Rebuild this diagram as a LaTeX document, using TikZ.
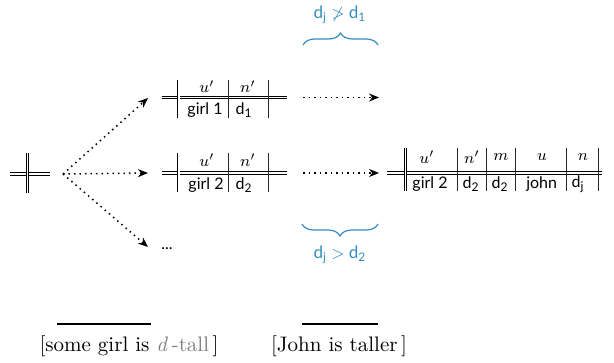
\documentclass[tikz,border=0pt]{standalone}
\usepackage{fontspec}
\newfontfamily\lato{Lato}
\usetikzlibrary{arrows.meta,decorations.pathreplacing}
\definecolor{bl}{RGB}{52,140,196}
\begin{document}
\begin{tikzpicture}[x=0.5pt,y=-0.5pt,
  dbl/.style={double, line width=0.45pt, double distance=0.7pt},
  sep/.style={line width=0.5pt, black!85},
  arr/.style={dotted, line width=0.75pt, -{Stealth[length=5pt,width=4pt]}},
  cell/.style={font=\lato\fontsize{8}{9}\selectfont, inner sep=0pt},
  hd/.style={font=\fontsize{8.5}{10}\selectfont, inner sep=0pt},
  lbl/.style={font=\lato\fontsize{8.5}{10}\selectfont, text=bl, inner sep=0pt},
  br/.style={decorate, decoration={brace, amplitude=6pt}, draw=bl, line width=0.6pt},
  captext/.style={font=\fontsize{10.5}{12}\selectfont, inner sep=0pt},
  rule/.style={line width=0.6pt}]
\useasboundingbox (0,0) rectangle (614,363);

% empty table at left
\coordinate (e1) at (10,174); \coordinate (e2) at (50,174);
\coordinate (e3) at (27.5,153); \coordinate (e4) at (27.5,193);
\draw[dbl] (e1) -- (e2);
\draw[dbl] (e3) -- (e4);

% origin of arrows
\coordinate (o) at (63,174);
\coordinate (a1) at (148,98);
\coordinate (a2) at (148,173);
\coordinate (a3) at (148,247);
\draw[arr] (o) -- (a1);
\draw[arr] (o) -- (a2);
\draw[arr] (o) -- (a3);
\node[cell] (dots) at (167,249) {...};

% top table
\coordinate (p1) at (162,97.5); \coordinate (p2) at (287,97.5);
\draw[dbl] (p1) -- (p2);
\coordinate (p3) at (178.8,80); \coordinate (p4) at (178.8,118);
\draw[dbl] (p3) -- (p4);
\coordinate (p5) at (228,80); \coordinate (p6) at (228,118);
\coordinate (p7) at (268,80); \coordinate (p8) at (268,118);
\draw[sep] (p5) -- (p6);
\draw[sep] (p7) -- (p8);
\node[hd] (pu) at (207,86.5) {$u'$};
\node[hd] (pn) at (248,86.5) {$n'$};
\node[cell] (pg) at (205,110) {girl 1};
\node[cell] (pd) at (244,110) {d\textsubscript{1}};

% middle table
\coordinate (q1) at (162,173); \coordinate (q2) at (287,173);
\draw[dbl] (q1) -- (q2);
\coordinate (q3) at (178.8,153); \coordinate (q4) at (178.8,192);
\draw[dbl] (q3) -- (q4);
\coordinate (q5) at (228,153); \coordinate (q6) at (228,192);
\coordinate (q7) at (268,153); \coordinate (q8) at (268,192);
\draw[sep] (q5) -- (q6);
\draw[sep] (q7) -- (q8);
\node[hd] (qu) at (207,160) {$u'$};
\node[hd] (qn) at (248,160) {$n'$};
\node[cell] (qg) at (206,185) {girl 2};
\node[cell] (qd) at (244,185) {d\textsubscript{2}};

% right arrows
\coordinate (b1) at (303,97.5); \coordinate (b2) at (379,97.5);
\coordinate (c1) at (303,173); \coordinate (c2) at (379,173);
\draw[arr] (b1) -- (b2);
\draw[arr] (c1) -- (c2);

% right table
\coordinate (r1) at (387,173); \coordinate (r2) at (602,173);
\draw[dbl] (r1) -- (r2);
\coordinate (r3) at (405.5,148); \coordinate (r4) at (405.5,191);
\draw[dbl] (r3) -- (r4);
\foreach \x/\n in {457.7/s1,486.7/s2,515/s3,566/s4,598.3/s5}{
  \coordinate (\n t) at (\x,148); \coordinate (\n b) at (\x,191);
  \draw[sep] (\n t) -- (\n b);
}
\node[hd] (ru) at (427,157) {$u'$};
\node[hd] (rn) at (472,157) {$n'$};
\node[hd] (rm) at (501,157) {$m$};
\node[hd] (rv) at (542,157) {$u$};
\node[hd] (rw) at (583,157) {$n$};
\node[cell] (rg) at (430,184.5) {girl 2};
\node[cell] (rd1) at (471,184.5) {d\textsubscript{2}};
\node[cell] (rd2) at (500,184.5) {d\textsubscript{2}};
\node[cell] (rj) at (541.7,184.5) {john};
\node[cell] (rdj) at (578,184.5) {d\textsubscript{j}};

% braces
\coordinate (k1) at (303,45); \coordinate (k2) at (378,45);
\draw[br] (k1) -- (k2);
\node[lbl] (kl) at (340,15) {d\textsubscript{j} $\not>$ d\textsubscript{1}};
\coordinate (m1) at (378,224); \coordinate (m2) at (302,224);
\draw[br] (m1) -- (m2);
\node[lbl] (ml) at (340,255) {d\textsubscript{j} $>$ d\textsubscript{2}};

% bottom
\coordinate (l1) at (57,324); \coordinate (l2) at (151,324);
\draw[rule] (l1) -- (l2);
\coordinate (l3) at (302,324); \coordinate (l4) at (378,324);
\draw[rule] (l3) -- (l4);
\node[captext] (t1) at (129,346) {[some girl is {\color{gray}\textit{d}\,-tall}\,]};
\node[captext] (t2) at (339,346) {[John is taller\,]};
\end{tikzpicture}
\end{document}
